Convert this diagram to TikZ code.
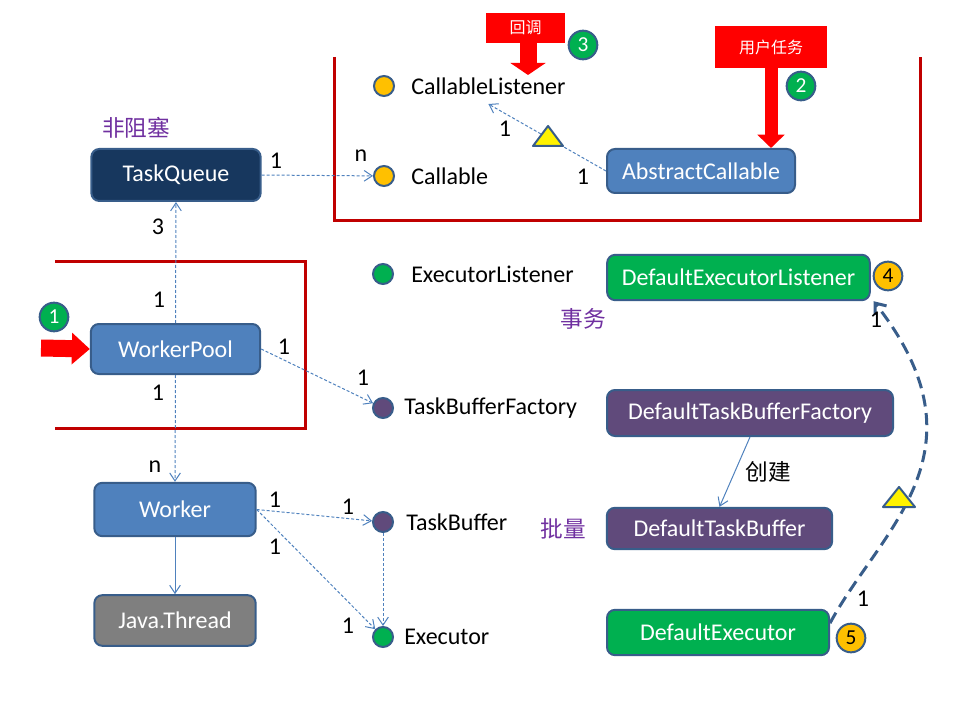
\documentclass[tikz,border=0pt]{standalone}
\usepackage{fontspec}
\setmainfont{Carlito}
\newfontfamily\cjk{Noto Sans CJK SC}
\usetikzlibrary{arrows.meta}
\definecolor{rim}{HTML}{385D8A}
\definecolor{navy}{HTML}{17375E}
\definecolor{steel}{HTML}{4F81BD}
\definecolor{slate}{HTML}{7F7F7F}
\definecolor{leaf}{HTML}{00B050}
\definecolor{plum}{HTML}{604A7B}
\definecolor{amber}{HTML}{FFC000}
\definecolor{wine}{HTML}{C00000}
\definecolor{violet}{HTML}{7030A0}
\definecolor{alarm}{HTML}{FF0000}
\tikzset{
  box/.style={draw=rim,line width=1.5pt,rounded corners=6pt,text=white,font=\fontsize{18}{21}\selectfont,inner sep=0pt},
  dot/.style={circle,draw=rim,line width=1.5pt,minimum size=15pt,inner sep=0pt},
  badge/.style={circle,draw=rim,line width=1.5pt,minimum size=21.5pt,inner sep=0pt,font=\fontsize{16}{18}\selectfont},
  tag/.style={font=\fontsize{18}{21}\selectfont,inner sep=0pt},
  note/.style={font=\cjk\fontsize{17}{20}\selectfont,inner sep=0pt,text=violet},
  callout/.style={fill=alarm,text=white,font=\cjk\fontsize{12}{14}\selectfont,inner sep=0pt},
  link/.style={draw=steel,line width=0.75pt,dash pattern=on 2.25pt off 1.5pt,-{Straight Barb[length=6pt,width=8pt]}},
  plain/.style={draw=steel,line width=0.75pt,-{Straight Barb[length=6pt,width=8pt]}},
  flow/.style={draw=rim,line width=2.25pt,dash pattern=on 9pt off 5pt,-{Straight Barb[length=7pt,width=11pt]}},
  bracket/.style={draw=wine,line width=2.25pt},
  tri/.style={fill=yellow,draw=rim,line width=1.5pt,line join=round}
}
\begin{document}
\begin{tikzpicture}[x=0.75pt,y=-0.75pt]
  \useasboundingbox (0,0) rectangle (960,720);
  % red frames
  \draw[bracket] (334,57) -- (334,221) -- (920,221) -- (920,57);
  \draw[bracket] (55,262) -- (305,262) -- (305,428) -- (55,428);
  % classes
  \draw
    (176,175) node[box,fill=navy,minimum width=127pt,minimum height=39pt] (tq){TaskQueue}
    (175.5,349) node[box,fill=steel,minimum width=127pt,minimum height=37.5pt] (wp){WorkerPool}
    (175,509.5) node[box,fill=steel,minimum width=121pt,minimum height=40pt] (wk){Worker}
    (175,620.5) node[box,fill=slate,minimum width=121pt,minimum height=38pt] (jt){Java.Thread}
    (701,171) node[box,fill=steel,minimum width=141pt,minimum height=33pt] (ac){AbstractCallable}
    (738.5,277.5) node[box,fill=leaf,minimum width=197pt,minimum height=34pt] (del){DefaultExecutorListener}
    (750,413) node[box,fill=plum,minimum width=214.5pt,minimum height=34.5pt] (dtbf){DefaultTaskBufferFactory}
    (719.5,528.5) node[box,fill=plum,minimum width=169pt,minimum height=31pt] (dtb){DefaultTaskBuffer}
    (718,632.5) node[box,fill=leaf,minimum width=166.5pt,minimum height=34pt] (dex){DefaultExecutor};
  % interfaces
  \draw
    (384,86) node[dot,fill=amber] (cl){}
    (384,176) node[dot,fill=amber] (ca){}
    (383,274) node[dot,fill=leaf] (el){}
    (383,408) node[dot,fill=plum] (tbf){}
    (383,522) node[dot,fill=plum] (tb){}
    (383,637) node[dot,fill=leaf] (ex){}
    (411,86) node[tag,anchor=west] (cltxt){CallableListener}
    (411,176) node[tag,anchor=west] (catxt){Callable}
    (411,274) node[tag,anchor=west] (eltxt){ExecutorListener}
    (404,408) node[tag,anchor=west] (tbftxt){TaskBufferFactory}
    (406,522) node[tag,anchor=west] (tbtxt){TaskBuffer}
    (404,637) node[tag,anchor=west] (extxt){Executor};
  % associations
  \begin{scope}[link]
    \draw (tq.east) to (ca);
    \draw (wp.north) to (tq.south);
    \draw (wp.east) to (tbf);
    \draw (wp.south) to (wk.north);
    \draw (wk.east) to (tb);
    \draw (wk.east) to (ex);
    \draw (tb.south) to (ex.north);
    \draw (ac.west) to ([yshift=-7pt]cltxt.south);
  \end{scope}
  \draw[plain] (wk.south) -- (jt.north);
  \draw[plain] (dtbf.south) -- (dtb.north);
  \draw[flow] ([yshift=7pt]dex.east) .. controls (880,530) and (992,452) .. ([xshift=2pt]del.south east);
  \coordinate (tri1) at (548,136);
  \coordinate (tri2) at (899,497);
  \draw[tri] (tri1) ++(-15,10) -- ++(30,0) -- ++(-15,-20) -- cycle;
  \draw[tri] (tri2) ++(-16,10) -- ++(32,0) -- ++(-16,-20) -- cycle;
  % multiplicities
  \draw
    (276,161) node[tag] (m1){1}
    (361,156) node[tag] (m2){n}
    (158,227) node[tag] (m3){3}
    (159,300) node[tag] (m4){1}
    (284,347) node[tag] (m5){1}
    (363,378) node[tag] (m6){1}
    (158,393) node[tag] (m7){1}
    (155,467) node[tag] (m8){n}
    (275,500) node[tag] (m9){1}
    (348,507) node[tag] (m10){1}
    (275,547) node[tag] (m11){1}
    (348,626) node[tag] (m12){1}
    (505,129) node[tag] (m13){1}
    (583,177) node[tag] (m14){1}
    (876,320) node[tag] (m15){1}
    (863,599) node[tag] (m16){1};
  % notes
  \draw
    (136,128) node[note] (nb){非阻塞}
    (583,319) node[note] (tx){事务}
    (563,529) node[note] (pl){批量}
    (768,472) node[note,text=black] (mk){创建};
  % callouts
  \draw
    (525.5,28) node[callout,minimum width=59pt,minimum height=22.5pt] (cb){回调}
    (771,47) node[callout,minimum width=84pt,minimum height=31.5pt] (ut){用户任务};
  \coordinate (cbtip) at (528,75);
  \coordinate (feed) at (41,348);
  \draw[alarm,line width=12.75pt,-{Triangle[length=9pt,width=26pt]}] (cb.south -| cbtip) -- (cbtip);
  \draw[alarm,line width=9.75pt,-{Triangle[length=10pt,width=20pt]}] (ut.south) -- (ut.south |- ac.north);
  \draw[alarm,line width=12.75pt,-{Triangle[length=13.5pt,width=23pt]}] (feed) -- (wp.west);
  % steps
  \draw
    (54,317) node[badge,fill=leaf,text=white] (s1){1}
    (801,86) node[badge,fill=leaf,text=white] (s2){2}
    (583,45) node[badge,fill=leaf,text=white] (s3){3}
    (888,276) node[badge,fill=amber] (s4){4}
    (851,638) node[badge,fill=amber] (s5){5};
\end{tikzpicture}
\end{document}
